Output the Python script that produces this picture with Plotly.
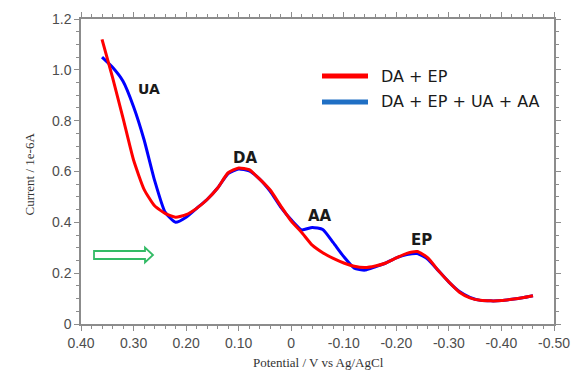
import plotly.graph_objects as go

# ---- data ----
potential = [0.36, 0.34, 0.32, 0.30, 0.28, 0.26, 0.24, 0.22, 0.20, 0.18, 0.16, 0.14,
             0.12, 0.10, 0.08, 0.06, 0.04, 0.02, 0.00, -0.02, -0.04, -0.06, -0.08,
             -0.10, -0.12, -0.14, -0.16, -0.18, -0.20, -0.22, -0.24, -0.26, -0.28,
             -0.30, -0.32, -0.34, -0.36, -0.38, -0.40, -0.42, -0.44, -0.46]
current_da_ep = [1.12, 0.97, 0.81, 0.645, 0.53, 0.465, 0.435, 0.42, 0.43, 0.455, 0.49, 0.535,
                 0.595, 0.614, 0.607, 0.57, 0.527, 0.465, 0.405, 0.36, 0.31, 0.28, 0.258,
                 0.24, 0.227, 0.222, 0.228, 0.24, 0.26, 0.278, 0.285, 0.26, 0.21,
                 0.165, 0.125, 0.103, 0.093, 0.091, 0.092, 0.097, 0.103, 0.111]
current_all = [1.05, 1.01, 0.955, 0.855, 0.725, 0.565, 0.44, 0.40, 0.42, 0.455, 0.49, 0.535,
               0.592, 0.61, 0.602, 0.57, 0.522, 0.46, 0.41, 0.37, 0.38, 0.372, 0.32,
               0.265, 0.22, 0.212, 0.225, 0.24, 0.26, 0.273, 0.277, 0.255, 0.21,
               0.165, 0.128, 0.105, 0.093, 0.091, 0.092, 0.097, 0.103, 0.111]

x_tickvals = [0.40, 0.30, 0.20, 0.10, 0.0, -0.10, -0.20, -0.30, -0.40, -0.50]
x_ticktext = ["0.40", "0.30", "0.20", "0.10", "0", "-0.10", "-0.20", "-0.30", "-0.40", "-0.50"]
y_tickvals = [0, 0.2, 0.4, 0.6, 0.8, 1.0, 1.2]
y_ticktext = ["0", "0.2", "0.4", "0.6", "0.8", "1.0", "1.2"]

series_names = ["DA + EP", "DA + EP + UA + AA"]
peak_labels = ["UA", "DA", "AA", "EP"]
peak_x = [0.271, 0.088, -0.055, -0.248]
peak_y = [0.926, 0.655, 0.426, 0.33]
peak_size = [14, 15, 15, 15]

# ---- figure geometry ----
W, H = 571, 380
L, R, T, B = 81, 17, 19, 56
PW, PH = W - L - R, H - T - B


def px(x):
    return (x - L) / PW


def py(y):
    return (H - B - y) / PH


fig = go.Figure()
fig.add_trace(go.Scatter(x=potential, y=current_all, mode="lines", name=series_names[1],
                         line=dict(color="#0000ff", width=3, shape="spline", smoothing=0.5),
                         showlegend=False))
fig.add_trace(go.Scatter(x=potential, y=current_da_ep, mode="lines", name=series_names[0],
                         line=dict(color="#ff0000", width=3, shape="spline", smoothing=0.5),
                         showlegend=False))

axis_common = dict(showline=True, linecolor="#8c8c8c", linewidth=1.5, mirror="ticks",
                   ticks="outside", ticklen=5, tickwidth=1.2, tickcolor="#8c8c8c",
                   showgrid=False, zeroline=False, automargin=False,
                   tickfont=dict(family="Liberation Sans, Arial", size=14, color="#4d4d4d"))

fig.update_xaxes(range=[0.40, -0.50], tickmode="array", tickvals=x_tickvals, ticktext=x_ticktext,
                 minor=dict(tickmode="linear", tick0=0, dtick=0.02, ticks="outside", ticklen=3,
                            tickwidth=1, tickcolor="#8c8c8c", showgrid=False),
                 **axis_common)
fig.update_yaxes(range=[0, 1.2], tickmode="array", tickvals=y_tickvals, ticktext=y_ticktext,
                 minor=dict(tickmode="linear", tick0=0, dtick=0.05, ticks="outside", ticklen=3,
                            tickwidth=1, tickcolor="#8c8c8c", showgrid=False),
                 **axis_common)

annotations = []
for lab, xx, yy, sz in zip(peak_labels, peak_x, peak_y, peak_size):
    annotations.append(dict(x=xx, y=yy, xref="x", yref="y", text="<b>%s</b>" % lab,
                            showarrow=False, font=dict(family="DejaVu Sans", size=sz, color="#1a1a1a")))

# axis titles
annotations.append(dict(x=px(318), y=py(372), xref="paper", yref="paper",
                        text="Potential / V vs Ag/AgCl", showarrow=False,
                        font=dict(family="Liberation Serif, Times New Roman", size=13, color="#333333")))
annotations.append(dict(x=px(19), y=py(174), xref="paper", yref="paper", textangle=-90,
                        text="Current / 1e-6A", showarrow=False,
                        font=dict(family="Liberation Serif, Times New Roman", size=13, color="#333333")))

# legend (drawn manually to match symbol length/colour)
legend_colors = ["#ff0000", "#1f6fc4"]
legend_rows = [76, 102]
shapes = []
for name, col, ry in zip(series_names, legend_colors, legend_rows):
    shapes.append(dict(type="line", xref="paper", yref="paper", x0=px(322), x1=px(368),
                       y0=py(ry), y1=py(ry), line=dict(color=col, width=5)))
    annotations.append(dict(x=px(379), y=py(ry), xref="paper", yref="paper", text=name,
                            showarrow=False, xanchor="left", yanchor="middle",
                            font=dict(family="DejaVu Sans", size=16, color="#1a1a1a")))

# hollow green arrow
pts = [(94, 251), (145, 251), (145, 247.5), (153, 255), (145, 262.5), (145, 259), (94, 259)]
path = "M " + " L ".join("%.4f,%.4f" % (px(a), py(b)) for a, b in pts) + " Z"
shapes.append(dict(type="path", xref="paper", yref="paper", path=path,
                   line=dict(color="#33bb66", width=1.8), fillcolor="white"))

fig.update_layout(width=W, height=H, margin=dict(l=L, r=R, t=T, b=B, autoexpand=False),
                  paper_bgcolor="white", plot_bgcolor="white",
                  annotations=annotations, shapes=shapes, showlegend=False)

fig.write_html("out.html")
